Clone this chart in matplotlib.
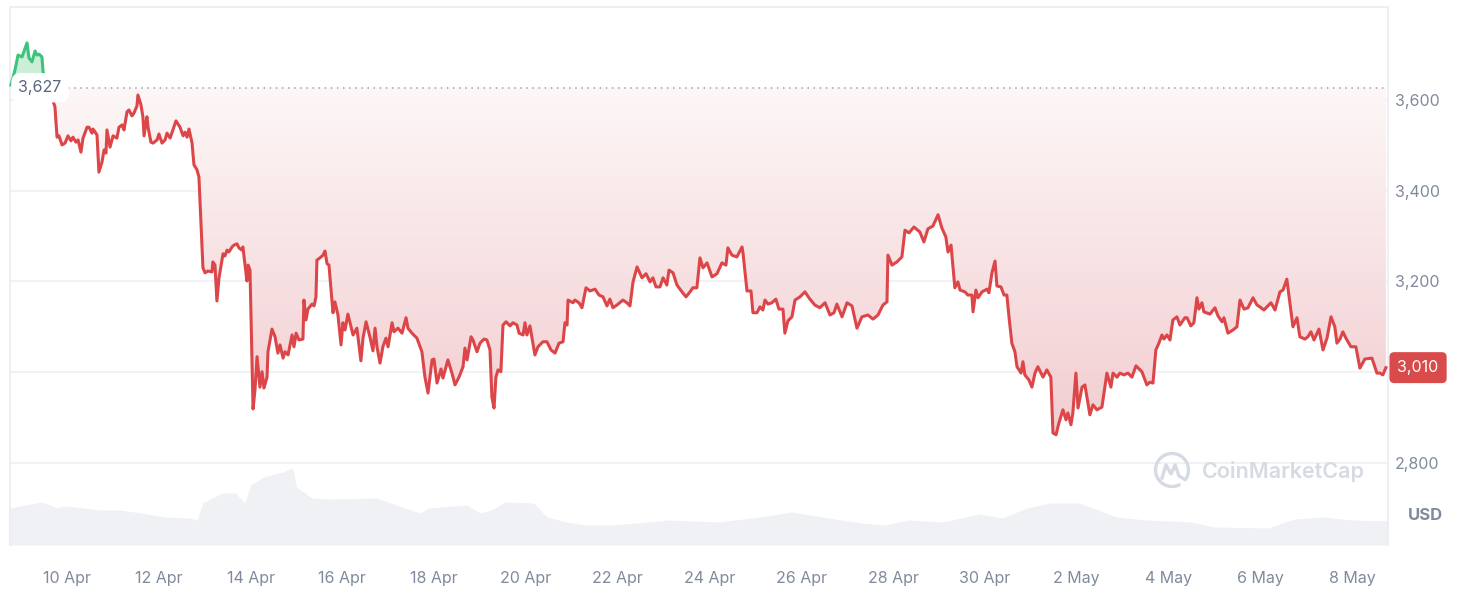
import numpy as np
import pandas as pd
import matplotlib
matplotlib.use("Agg")
import matplotlib.pyplot as plt
from matplotlib.patches import Rectangle, Arc
from matplotlib.colors import LinearSegmentedColormap
from matplotlib.transforms import blended_transform_factory

plt.rcParams['font.family'] = ['Inter', 'DejaVu Sans']

# time axis: hours since this moment
START = pd.Timestamp('2024-04-08 18:00')
BASE_PRICE = 3627
LAST_PRICE = 3010

hours = [
    0.7, 2.8, 4.4, 6.5, 9.1, 10.1, 11.7, 13.3, 14.3, 15.4,
    16.9, 17.5, 20.6, 23.7, 24.8, 25.8, 27.4, 29.0, 30.5, 32.1,
    33.1, 34.7, 35.8, 37.3, 38.4, 40.5, 41.5, 43.1, 43.6, 45.7,
    46.7, 48.3, 49.4, 50.4, 50.9, 52.5, 54.1, 56.1, 57.2, 58.8,
    59.8, 61.4, 62.4, 64.0, 65.0, 66.6, 67.1, 68.7, 69.7, 70.3,
    71.8, 72.4, 73.9, 75.0, 77.1, 78.1, 79.7, 81.3, 82.3, 83.9,
    85.4, 87.0, 89.1, 90.7, 91.7, 92.8, 93.8, 95.4, 96.4, 98.0,
    99.0, 101.1, 102.2, 103.7, 105.8, 106.3, 107.4, 108.4, 109.5, 111.6,
    112.6, 113.7, 114.7, 116.3, 117.3, 118.9, 119.9, 121.5, 122.0, 124.1,
    124.7, 125.7, 127.3, 128.3, 129.4, 130.9, 132.0, 133.0, 134.6, 135.1,
    137.2, 138.8, 140.3, 141.4, 143.0, 144.0, 145.6, 147.7, 148.7, 149.8,
    151.3, 153.4, 153.9, 155.0, 156.0, 158.1, 159.2, 160.2, 160.7, 162.3,
    163.9, 164.9, 166.0, 167.0, 169.1, 170.1, 171.7, 173.3, 174.3, 175.4,
    176.9, 179.6, 181.6, 183.7, 184.8, 186.4, 188.4, 190.0, 191.1, 192.1,
    193.7, 195.2, 196.8, 197.9, 200.0, 201.0, 203.1, 205.2, 207.3, 208.3,
    210.4, 213.0, 215.6, 217.2, 218.8, 220.9, 221.9, 223.5, 225.6, 226.6,
    229.2, 231.3, 232.9, 235.0, 237.1, 238.1, 239.2, 241.3, 242.3, 244.4,
    246.0, 248.1, 249.6, 251.2, 252.2, 253.3, 254.3, 255.4, 256.9, 258.0,
    259.6, 261.7, 263.2, 265.3, 266.4, 268.5, 269.5, 270.5, 272.1, 274.7,
    276.3, 278.9, 281.0, 283.1, 285.2, 287.3, 289.4, 290.4, 291.5, 292.0,
    294.6, 295.6, 297.7, 299.3, 301.4, 303.5, 306.1, 308.2, 310.3, 312.4,
    313.9, 315.5, 317.6, 320.7, 322.8, 324.4, 326.0, 328.1, 330.7, 332.8,
    334.9, 336.4, 338.0, 340.1, 341.7, 343.7, 344.8, 346.9, 349.0, 351.6,
    353.7, 355.8, 357.3, 359.4, 361.0, 362.6, 364.7, 367.3, 369.9, 372.5,
    374.6, 375.6, 377.7, 380.3, 383.0, 383.5, 385.6, 387.7, 388.7, 390.8,
    392.4, 393.9, 395.0, 396.6, 398.6, 400.7, 402.3, 404.4, 405.4, 407.0,
    409.1, 410.7, 413.3, 415.9, 418.5, 421.1, 423.7, 426.4, 429.0, 431.1,
    432.6, 435.3, 437.9, 440.5, 443.1, 445.7, 448.8, 451.5, 454.1, 456.7,
    458.8, 459.3, 461.4, 464.0, 466.6, 468.2, 470.3, 472.9, 476.0, 478.1,
    480.2, 482.8, 485.5, 487.5, 489.6, 490.7, 492.3, 494.3, 495.9, 497.0,
    499.6, 501.1, 503.2, 503.8, 505.3, 506.4, 508.5, 511.1, 512.1, 513.7,
    515.3, 516.3, 518.4, 520.0, 521.5, 522.6, 524.1, 525.7, 526.8, 528.9,
    529.9, 530.9, 533.0, 534.6, 536.2, 537.7, 540.4, 542.4, 544.5, 545.6,
    547.2, 548.7, 550.8, 552.4, 553.4, 555.0, 556.0, 557.6, 558.7, 560.8,
    562.3, 564.9, 566.5, 568.6, 571.2, 573.8, 575.9, 577.0, 579.1, 580.6,
    582.7, 584.8, 586.9, 589.0, 592.1, 594.7, 596.3, 597.9, 599.4, 601.0,
    602.6, 603.6, 605.2, 606.8, 608.3, 610.4, 612.0, 614.6, 615.7, 617.7,
    619.3, 620.9, 621.9, 623.5, 624.5, 627.7, 630.3, 631.9, 634.0, 635.0,
    637.1, 639.7, 641.8, 643.4, 645.5, 647.6, 650.2, 652.3, 653.8, 655.9,
    659.6, 661.7, 664.3, 665.9, 667.9, 669.5, 671.1, 673.2, 674.7, 677.4,
    678.9, 680.5, 682.1, 684.7, 686.8, 688.9, 691.0, 693.0, 694.1, 695.7,
    697.2, 698.8, 701.4, 704.0, 706.1, 708.7, 712.4, 715.0, 716.6, 718.1,
    719.7,
]

prices = [
    3633, 3666, 3699, 3695, 3726, 3693, 3684, 3708, 3699, 3701,
    3695, 3662, 3625, 3585, 3518, 3521, 3501, 3505, 3521, 3510,
    3518, 3507, 3512, 3485, 3516, 3540, 3540, 3527, 3536, 3523,
    3441, 3463, 3490, 3483, 3534, 3496, 3521, 3516, 3540, 3545,
    3534, 3574, 3578, 3565, 3571, 3587, 3611, 3589, 3563, 3521,
    3563, 3540, 3507, 3505, 3512, 3525, 3505, 3512, 3527, 3516,
    3534, 3554, 3540, 3521, 3529, 3518, 3536, 3505, 3457, 3446,
    3430, 3230, 3219, 3223, 3221, 3243, 3236, 3157, 3208, 3261,
    3256, 3269, 3265, 3276, 3280, 3283, 3274, 3269, 3276, 3201,
    3236, 3225, 2919, 2961, 3034, 2967, 3001, 2965, 2989, 3045,
    3095, 3078, 3042, 3060, 3031, 3045, 3038, 3082, 3056, 3086,
    3071, 3073, 3159, 3115, 3139, 3150, 3146, 3166, 3247, 3252,
    3258, 3267, 3239, 3236, 3131, 3155, 3126, 3060, 3109, 3093,
    3128, 3082, 3097, 3025, 3075, 3111, 3078, 3047, 3097, 3056,
    3020, 3056, 3075, 3056, 3109, 3089, 3097, 3086, 3120, 3097,
    3086, 3075, 3045, 2989, 2954, 3027, 3029, 2976, 3007, 2987,
    3027, 2998, 2972, 2989, 3012, 3053, 3027, 3078, 3071, 3045,
    3064, 3073, 3071, 3049, 2945, 2921, 2989, 3005, 3001, 3104,
    3111, 3102, 3109, 3104, 3086, 3082, 3109, 3082, 3102, 3038,
    3056, 3067, 3067, 3049, 3042, 3064, 3067, 3109, 3104, 3159,
    3153, 3159, 3153, 3142, 3186, 3179, 3183, 3170, 3166, 3146,
    3161, 3142, 3148, 3159, 3153, 3146, 3199, 3232, 3208, 3217,
    3199, 3208, 3188, 3188, 3208, 3192, 3225, 3219, 3192, 3177,
    3166, 3177, 3186, 3186, 3252, 3230, 3241, 3210, 3217, 3241,
    3236, 3274, 3258, 3254, 3276, 3263, 3179, 3179, 3131, 3131,
    3144, 3137, 3159, 3150, 3153, 3161, 3139, 3139, 3086, 3113,
    3122, 3159, 3166, 3177, 3161, 3148, 3142, 3153, 3126, 3131,
    3150, 3122, 3153, 3146, 3097, 3122, 3126, 3117, 3126, 3148,
    3155, 3258, 3236, 3243, 3254, 3313, 3307, 3320, 3309, 3287,
    3316, 3322, 3347, 3318, 3298, 3265, 3280, 3186, 3199, 3181,
    3177, 3170, 3170, 3133, 3181, 3164, 3177, 3183, 3175, 3219,
    3245, 3190, 3188, 3170, 3170, 3122, 3064, 3045, 3012, 2998,
    3023, 2994, 2983, 2967, 2998, 3012, 2989, 3005, 2989, 2866,
    2862, 2888, 2917, 2895, 2910, 2884, 2910, 2998, 2921, 2967,
    2972, 2906, 2928, 2917, 2923, 2998, 2967, 2998, 2989, 2998,
    2994, 2998, 2989, 3014, 3001, 2972, 2978, 2976, 3049, 3064,
    3082, 3073, 3082, 3071, 3115, 3122, 3104, 3120, 3120, 3102,
    3109, 3164, 3139, 3153, 3133, 3128, 3142, 3124, 3111, 3120,
    3086, 3093, 3100, 3159, 3139, 3142, 3164, 3148, 3144, 3137,
    3153, 3137, 3177, 3181, 3205, 3153, 3100, 3120, 3078, 3073,
    3078, 3089, 3071, 3095, 3049, 3075, 3122, 3100, 3064, 3073,
    3089, 3075, 3056, 3056, 3009, 3029, 3031, 2998, 2998, 2994,
    3010,
]

# trading volume, billion USD
vol_hours = [0, 17, 25, 28, 39, 47, 57, 69, 81, 94, 98, 101, 111, 118, 123,
             126, 133, 143, 148, 150, 158, 167, 192, 205, 215, 219, 239, 246,
             252, 259, 274, 281, 291, 301, 316, 328, 345, 371, 396, 409, 428,
             446, 458, 470, 488, 507, 519, 532, 544, 559, 569, 579, 594, 618,
             630, 658, 672, 687, 702, 721]
vol_values = [14.8, 17.2, 14.8, 15.6, 14.8, 14.0, 14.0, 12.8, 11.2, 10.8, 10.0,
              16.8, 20.8, 20.8, 16.8, 24.0, 27.2, 29.2, 30.8, 23.2, 18.8, 18.4,
              18.8, 15.2, 12.8, 14.8, 16.0, 12.8, 14.0, 17.2, 16.8, 11.2, 9.2,
              8.0, 8.0, 8.8, 10.0, 9.2, 11.6, 13.2, 10.8, 8.8, 8.0, 10.0, 9.2,
              12.4, 10.8, 14.8, 16.8, 16.8, 14.0, 11.2, 10.0, 9.2, 7.2, 6.8,
              10.4, 11.2, 10.0, 9.6]

tick_dates = ['2024-04-10', '2024-04-12', '2024-04-14', '2024-04-16', '2024-04-18',
              '2024-04-20', '2024-04-22', '2024-04-24', '2024-04-26', '2024-04-28',
              '2024-04-30', '2024-05-02', '2024-05-04', '2024-05-06', '2024-05-08']
tick_labels = ['10 Apr', '12 Apr', '14 Apr', '16 Apr', '18 Apr', '20 Apr', '22 Apr',
               '24 Apr', '26 Apr', '28 Apr', '30 Apr', '2 May', '4 May', '6 May', '8 May']
y_ticks = [2800, 3000, 3200, 3400, 3600]

GRAY = '#808a9d'
RED = '#dc4649'
GREEN = '#3cc47c'

h = np.array(hours)
p = np.array(prices, dtype=float)

fig = plt.figure(figsize=(14.62, 6.08), dpi=100)
rect = [10 / 1462, 1 - 545 / 608, 1378 / 1462, 538 / 608]

# volume underneath
ax_vol = fig.add_axes(rect)
ax_vol.fill_between(vol_hours, vol_values, color='#eff1f4', lw=0)
ax_vol.set_ylim(0, 215)
ax_vol.set_xlim(0.2, 720.8)
ax_vol.axis('off')

ax = fig.add_axes(rect)
ax.patch.set_visible(False)
ax.set_xlim(0.2, 720.8)
ax.set_ylim(2619, 3805)

# grid and frame
ax.set_yticks(y_ticks)
ax.set_yticklabels(['' if v == 3000 else f'{v:,}' for v in y_ticks])
ax.grid(axis='y', color='#eff1f4', lw=1.3)
ax.set_axisbelow(True)
for side in ['top', 'left', 'right']:
    ax.spines[side].set_color('#eceef1')
    ax.spines[side].set_linewidth(1.3)
ax.spines['bottom'].set_visible(False)
ax.yaxis.tick_right()
ax.tick_params(axis='y', length=0, pad=5, labelsize=11.5, labelcolor=GRAY)

tick_pos = [(pd.Timestamp(d) - START).total_seconds() / 3600 for d in tick_dates]
ax.set_xticks(tick_pos)
ax.set_xticklabels(tick_labels)
ax.tick_params(axis='x', length=0, pad=18.5, labelsize=11.5, labelcolor=GRAY)

# green area above the open price
ax.fill_between(h, BASE_PRICE, np.maximum(p, BASE_PRICE), color='#cbeed9', lw=0, zorder=2)

# red gradient area below the open price
poly = ax.fill_between(h, np.minimum(p, BASE_PRICE), BASE_PRICE, facecolor='none', lw=0)
cmap = LinearSegmentedColormap.from_list('fade', ['#f2cdd0', '#fdf7f7'])
grad = np.linspace(0, 1, 256).reshape(-1, 1)
im = ax.imshow(grad, extent=[h[0], h[-1], p.min(), BASE_PRICE], origin='lower',
               aspect='auto', cmap=cmap, zorder=2)
im.set_clip_path(poly.get_paths()[0], transform=ax.transData)
ax.set_xlim(0.2, 720.8)
ax.set_ylim(2619, 3805)

# price line, green above the open and red below
above = Rectangle((-100, BASE_PRICE), 1000, 5000, transform=ax.transData)
below = Rectangle((-100, 0), 1000, BASE_PRICE, transform=ax.transData)
gl, = ax.plot(h, p, color=GREEN, lw=2.2, zorder=4, solid_joinstyle='round')
gl.set_clip_path(above)
rl, = ax.plot(h, p, color=RED, lw=2.2, zorder=4, solid_joinstyle='round')
rl.set_clip_path(below)

# dotted open price line and its label
ax.axhline(BASE_PRICE, xmin=0.042, xmax=1, color='#9aa2b1', lw=1.1,
           linestyle=(0, (1, 3)), zorder=3)
bt = blended_transform_factory(ax.transAxes, ax.transData)
ax.text(0.0218, BASE_PRICE, f'{BASE_PRICE:,}', transform=bt, ha='center', va='center',
        color='#5a6780', fontsize=11.5, zorder=6,
        bbox=dict(boxstyle='round,pad=0.45,rounding_size=0.6', fc='white', ec='none'))

# last price tag
ax.text(1.0218, LAST_PRICE, f'{LAST_PRICE:,}', transform=bt, ha='center', va='center',
        color='white', fontsize=11.5, zorder=7, clip_on=False,
        bbox=dict(boxstyle='round,pad=0.5,rounding_size=0.3', fc='#d94a4a', ec='none'))

fig.text(1425 / 1462, 1 - 515 / 608, 'USD', ha='center', va='center',
         color=GRAY, fontsize=12, fontweight='bold')

# watermark
fig.text(1202 / 1462, 1 - 472 / 608, 'CoinMarketCap', ha='left', va='center',
         color='#d5dae3', fontsize=15.5, fontweight='semibold')
logo_c = (11.72, 6.08 - 4.70)
ring = Arc(logo_c, 0.33, 0.33, theta1=-40, theta2=300, lw=2.4, color='#d5dae3',
           transform=fig.dpi_scale_trans)
fig.add_artist(ring)
wave_x = np.array([-0.10, -0.06, -0.01, 0.03, 0.07, 0.12]) + logo_c[0]
wave_y = np.array([-0.08, 0.05, -0.04, 0.05, -0.06, -0.09]) + logo_c[1]
fig.add_artist(plt.Line2D(wave_x, wave_y, lw=2.4, color='#d5dae3',
                          transform=fig.dpi_scale_trans, solid_joinstyle='round'))

fig.savefig('out.png', dpi=100)
